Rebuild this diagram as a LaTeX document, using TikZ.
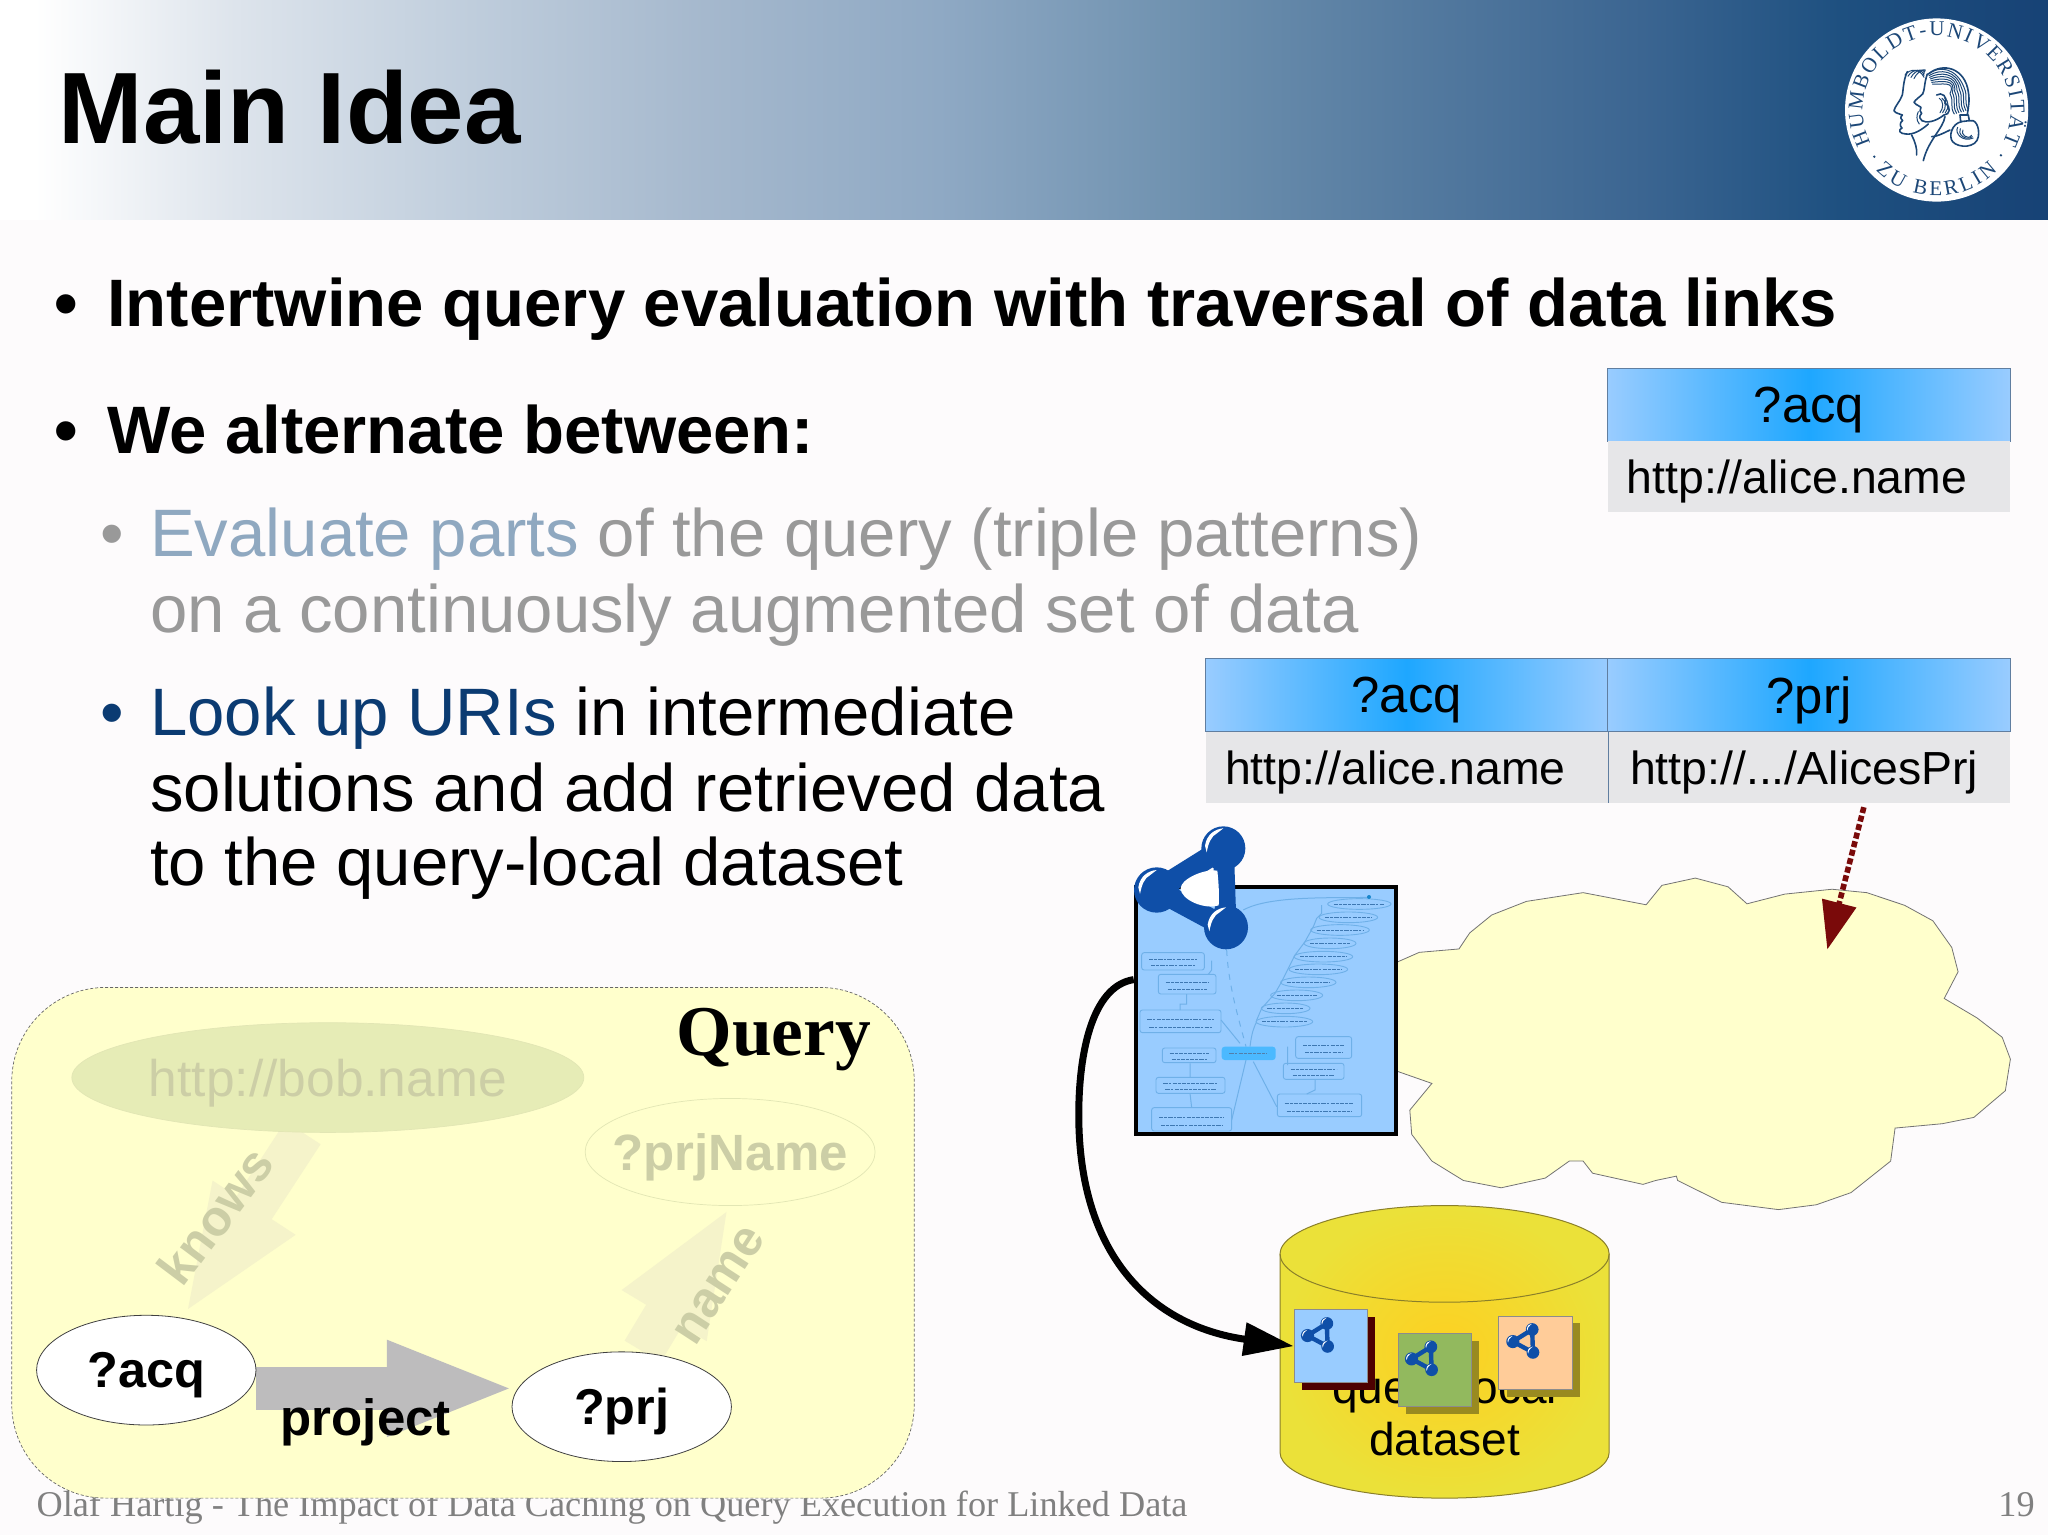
\documentclass[tikz,border=0pt]{standalone}
\usepackage{fontspec}
\setmainfont{Liberation Sans}
\newfontfamily\serifx{Liberation Serif}
\usetikzlibrary{arrows.meta,decorations.text,shapes.geometric,calc}
\pgfdeclarelayer{base}
\pgfdeclarelayer{under}
\pgfsetlayers{base,under,main}
\definecolor{pagebg}{HTML}{FDFBFC}
\definecolor{netblue}{HTML}{0F4FA8}
\definecolor{hublue}{HTML}{1C4777}
\definecolor{qyellow}{HTML}{FFFFCC}
\definecolor{docblue}{HTML}{99CCFF}
\definecolor{mapline}{HTML}{6FB0E8}
\definecolor{maptext}{HTML}{2F6AA5}
\definecolor{darkred}{HTML}{7A0A0A}
\definecolor{softgrey}{HTML}{999999}
\definecolor{softblue}{HTML}{8FA8C0}
\definecolor{uriblue}{HTML}{0B3B72}
\definecolor{fadetext}{HTML}{CCCEA6}
\definecolor{fadearrow}{HTML}{F5F3CA}
\definecolor{cyanmid}{HTML}{1EA7FF}
\definecolor{cellgrey}{HTML}{E6E6E8}
\definecolor{dbcentre}{HTML}{FDD021}
\definecolor{dbedge}{HTML}{EBE139}
\definecolor{dbline}{HTML}{8A7F2A}
\definecolor{shadowred}{HTML}{4D0000}
\definecolor{shadowochre}{HTML}{998A20}
\definecolor{pagegreen}{HTML}{92B95E}
\definecolor{pageorange}{HTML}{FFCC99}
\definecolor{footgrey}{HTML}{808080}
\definecolor{bobfill}{HTML}{E6ECB6}
\definecolor{bobdraw}{HTML}{E2E6B4}
\definecolor{projgrey}{HTML}{BDBCBD}
\pgfdeclarehorizontalshading{headershade}{100bp}{%
 rgb(0bp)=(1,1,1); rgb(25.85bp)=(1,1,1);
 rgb(30.75bp)=(.867,.894,.925); rgb(36.5bp)=(.749,.804,.863);
 rgb(42.2bp)=(.647,.722,.804); rgb(47.9bp)=(.561,.663,.769);
 rgb(53.65bp)=(.439,.573,.690); rgb(59.35bp)=(.333,.482,.627);
 rgb(65.1bp)=(.231,.396,.569); rgb(69.9bp)=(.118,.314,.502);
 rgb(75bp)=(.09,.26,.46); rgb(100bp)=(.09,.26,.46)}
\newcommand{\fsz}[1]{\fontsize{#1pt}{#1pt}\selectfont}
\newcommand{\lowr}[1]{\raisebox{-2.6pt}[\height][\depth]{#1}}
\tikzset{
 lbl/.style={inner sep=0pt,outer sep=0pt,anchor=base west},
 bold bullet/.style={lbl,font=\fsz{33.55}\bfseries},
 sub text/.style={lbl,font=\fsz{33.55}},
 cellhead/.style={draw=hublue!70,line width=.5pt,left color=docblue,right color=docblue,middle color=cyanmid,
   minimum height=56*.65306pt,inner sep=0pt,font=\fsz{25.4}},
 cellval/.style={fill=cellgrey,minimum height=54*.65306pt,inner sep=0pt,font=\fsz{23.2}},
 graph node/.style={ellipse,draw=black!75,line width=.4pt,fill=white,minimum width=168*.65306pt,minimum height=84*.65306pt,inner sep=0pt,font=\fsz{25.2}\bfseries},
 faded link/.style={fadearrow,line width=21pt,-{Triangle[length=64pt,width=44pt]}},
 rdoc/.style={rectangle,draw=black!45,line width=.5pt,minimum size=36.67pt,inner sep=0pt},
 rshadow/.style={rectangle,minimum size=36.67pt,inner sep=0pt},
 mapbox/.style={draw=mapline,line width=.45pt,rounded corners=1.2pt},
 maprow/.style={maptext,opacity=.85,line width=.5pt,dash pattern=on 2.2pt off .5pt on 1.3pt off .6pt},
 hair/.style={hublue,line width=.5pt,line cap=round,line join=round},
 sealtext/.style={decorate,decoration={text along path,text align={fit to path},text={#1}}}
}
\newcommand{\rdfnet}[4]{% x y scale linkwidth
 \begin{scope}[shift={(#1,#2)},scale=#3]
  \draw[netblue,line width=#4,line join=round] (0,0)--(-200,125)--(8,237)--cycle;
  \fill[netblue] (0,0) circle (66) (-200,125) circle (68) (8,237) circle (66);
  \foreach \a/\b in {0/0,-200/125,8/237}{
   \fill[white] ($(\a,\b)+(-55,-8)$) .. controls ($(\a,\b)+(-50,-42)$) and ($(\a,\b)+(-25,-58)$) .. ($(\a,\b)+(0,-60)$) -- ($(\a,\b)+(-18,-46)$) .. controls ($(\a,\b)+(-38,-36)$) and ($(\a,\b)+(-45,-14)$) .. ($(\a,\b)+(-50,12)$) -- cycle;
  }
 \end{scope}}
\begin{document}
\begin{tikzpicture}[x=.65306pt,y=-.65306pt,font=\fsz{20}]
\useasboundingbox (0,0) rectangle (1568,1175.4);
\begin{pgfonlayer}{base}
\fill[pagebg] (0,0) rectangle (1568,1175.4);
\shade[shading=headershade] (0,0) rectangle (1568,168);
\node[lbl,font=\serifx\fsz{18.13},text=footgrey] (foot) at (28,1161) {Olaf Hartig - The Impact of Data Caching on Query Execution for Linked Data};
\node[lbl,font=\serifx\fsz{18.13},text=footgrey] (pageno) at (1530,1161) {19};
\draw[fill=qyellow,draw=black!60,line width=.35pt,dash pattern=on 1.5pt off 1pt,rounded corners=47pt] (9,756) rectangle (700,1147);
\end{pgfonlayer}
\node[lbl,font=\fsz{50.7}\bfseries] (title) at (45,110) {Main Idea};
% logo
\begin{scope}[shift={(1393.4,0)},x=.16667pt,y=-.16667pt]
 \node[circle,fill=white,minimum size=91.6pt,inner sep=0pt] (seal) at (350,330) {};
 \path[sealtext={|\serifx\fsz{10.5}\color{hublue}|HUMBOLDT-UNIVERSITÄT}]
   (152.2,430.8) arc[start angle=153,end angle=387,radius=222];
 \path[sealtext={|\serifx\fsz{10.5}\color{hublue}|ZU BERLIN}]
   (167.6,512.4) arc[start angle=135,end angle=45,radius=258];
 \fill[hublue] (163,470) circle (4) (543,466) circle (4);
 \draw[hair,line width=.8pt] (262,215) .. controls (250,240) and (250,270) .. (247,285) .. controls (240,305) and (225,318) .. (222,332) .. controls (228,342) and (240,340) .. (247,345) .. controls (240,352) and (242,358) .. (248,362) .. controls (238,368) and (240,380) .. (246,384) .. controls (232,390) and (240,402) .. (258,402) .. controls (280,405) and (305,390) .. (325,372);
 \draw[hair,line width=.8pt] (275,405) .. controls (285,425) and (292,445) .. (290,465);
 \draw[hair,line width=.8pt] (322,222) .. controls (312,250) and (315,270) .. (308,282) .. controls (298,292) and (285,300) .. (282,307) .. controls (290,318) and (300,316) .. (303,322) .. controls (298,330) and (300,336) .. (305,340) .. controls (295,350) and (300,358) .. (306,362) .. controls (318,370) and (345,366) .. (372,345);
 \draw[hair,line width=.8pt] (375,350) .. controls (370,385) and (325,420) .. (310,482);
 \draw[hair,line width=.8pt] (335,410) .. controls (350,410) and (370,400) .. (390,390);
 \foreach \d in {0,9,18,27}{
  \draw[hair] (255+\d,225+\d*.4) .. controls (270+\d,205) and (300+\d,205) .. (312,232-\d*.6);
 }
 \draw[hair] (295,335) .. controls (290,345) and (288,360) .. (298,372);
 \foreach \d in {0,10,20,30,40,50,60}{
  \draw[hair] (325+\d*.2,222+\d*.5) .. controls (360,195+\d) and (410,205+\d*.6) .. (432-\d*.7,262+\d*.3) .. controls (445-\d*.7,290+\d*.3) and (430-\d*.7,300+\d*.3) .. (445-\d*.7,330+\d*.2);
 }
 \draw[hair,line width=.8pt] (325,222) .. controls (370,185) and (435,205) .. (445,275) .. controls (450,305) and (445,320) .. (442,345);
 \draw[hair,line width=.8pt] (350,285) .. controls (365,275) and (385,290) .. (375,310) .. controls (395,320) and (390,345) .. (372,345);
 \foreach \d in {0,8,16}{ \draw[hair] (358+\d,295) .. controls (370+\d,300) and (372+\d,325) .. (360+\d,338); }
 \draw[hair,line width=.8pt] (420,345) -- (445,345) -- (448,362) -- (422,365) -- cycle;
 \draw[hair,line width=.8pt] (425,365) .. controls (395,370) and (385,410) .. (398,425) .. controls (415,445) and (470,445) .. (475,410) .. controls (480,380) and (465,355) .. (448,362);
 \foreach \r in {8,16,24}{ \draw[hair] (405+\r,378+\r*.5) .. controls (395+\r,400) and (420+\r,430-\r*.3) .. (462-\r*.3,418-\r*.5); }
\end{scope}
% bullets
\node[bold bullet] (b1) at (42,250) {•};
\node[bold bullet] (t1) at (82,250) {Intertwine query evaluation with traversal of data links};
\node[bold bullet] (b2) at (42,347) {•};
\node[bold bullet] (t2) at (82,347) {We alternate between:};
\node[sub text,text=softgrey] (b3) at (77,426) {•};
\node[sub text,text=softgrey] (t3) at (115,426) {\textcolor{softblue}{Evaluate parts} of the query (triple patterns)};
\node[sub text,text=softgrey] (t3b) at (115,484) {on a continuously augmented set of data};
\node[sub text,text=uriblue] (b4) at (77,563) {•};
\node[sub text] (t4) at (115,563) {\textcolor{uriblue}{Look up URIs} in intermediate};
\node[sub text] (t4b) at (115,621) {solutions and add retrieved data};
\node[sub text] (t4c) at (115,678) {to the query-local dataset};
% tables
\node[cellhead,minimum width=308*.65306pt] (h1) at (1385,310) {\lowr{?acq}};
\node[cellval,minimum width=308*.65306pt,text width=279*.65306pt,align=left] (v1) at (1385,365) {\lowr{http://alice.name}};
\node[cellhead,minimum width=308*.65306pt] (h2) at (1077,532) {\lowr{?acq}};
\node[cellhead,minimum width=308*.65306pt] (h3) at (1385,532) {\lowr{?prj}};
\node[cellval,minimum width=308*.65306pt,text width=278*.65306pt,align=left] (v2) at (1077,587.5) {\lowr{http://alice.name}};
\node[cellval,minimum width=308*.65306pt,text width=274*.65306pt,align=left] (v3) at (1385,587.5) {\lowr{http://.../AlicesPrj}};
\draw[hublue!70,line width=.4pt] (v2.north east) -- (v2.south east);
% cloud
\begin{scope}[shift={(811.6,597.2)},x=.3151pt,y=-.2427pt]
 \draw[fill=qyellow,draw=black!55,line width=.4pt] (535,375)--(570,355)--(633,348)--(650,315)--(685,278)--(740,250)--(830,232)--(930,257)--(955,217)--(1008,202)--(1060,220)--(1090,255)--(1150,235)--(1225,225)--(1280,232)--(1340,258)--(1385,290)--(1415,345)--(1425,395)--(1403,450)--(1455,490)--(1495,530)--(1508,575)--(1500,640)--(1450,695)--(1400,708)--(1325,717)--(1318,785)--(1255,850)--(1200,875)--(1140,885)--(1050,870)--(980,825)--(978,816)--(945,825)--(925,833)--(845,810)--(830,785)--(808,785)--(770,820)--(700,840)--(640,825)--(590,785)--(558,730)--(555,680)--(590,625)--(535,600)--cycle;
\end{scope}
% dotted link into the cloud
\coordinate (dotstart) at (1427,618);
\coordinate (dotend) at (1399,727);
\draw[darkred,line width=2.8pt,dash pattern=on 3pt off 1.4pt,-{Triangle[length=24pt,width=17pt]}] (dotstart) -- (dotend);
% document with mind map
\begin{scope}[shift={(857.5,627.8)},x=.16667pt,y=-.16667pt]
 \node[rectangle,draw=black,line width=2pt,fill=docblue,minimum width=130pt,minimum height=123.5pt,inner sep=0pt] (doc) at (437,570) {};
 \draw[mapline,line width=.5pt] (370,270) .. controls (450,225) and (650,235) .. (745,232);
 \draw[mapline,line width=.5pt,dashed] (320,390) .. controls (325,500) and (360,610) .. (378,680);
 \draw[mapline,line width=.5pt] (378,720) -- (335,900) (400,725) -- (470,860) (360,670) -- (303,600) (390,680) .. controls (395,640) and (400,625) .. (410,605);
 \draw[mapline,line width=.5pt] (605,255) -- (605,280) -- (590,295) -- (580,320) -- (555,365) -- (525,405) -- (505,445) -- (485,485) -- (465,520) -- (425,565) -- (410,600);
 \draw[mapline,line width=.5pt] (503,680) -- (503,735) (585,778) -- (585,810) -- (560,822) (210,730) -- (210,772) (210,820) -- (215,863) (200,522) -- (200,552) -- (180,552) -- (180,570) (275,422) -- (275,450) -- (265,463);
 \foreach \x/\y/\w in {718/252/95,685/292/88,660/330/88,630/370/78,610/410/88,595/448/88,565/487/83,530/526/78,497/565/73,493/605/85}{
  \draw[mapline,line width=.45pt] (\x,\y) ellipse [x radius=\w,y radius=16];
  \draw[maprow] (\x-\w+18,\y) -- (\x+\w-18,\y);
 }
 \foreach \xa/\ya/\xb/\yb in {65/398/253/450,115/463/288/522,60/570/303/638,127/684/288/728,108/772/315/820,95/863/335/933,527/650/695/715,490/730/672/778,472/822/725/890}{
  \draw[mapbox] (\xa,\ya) rectangle (\xb,\yb);
  \draw[maprow] (\xa+22,\ya*.6+\yb*.4) -- (\xb-22,\ya*.6+\yb*.4);
  \draw[maprow] (\xa+28,\ya*.25+\yb*.75) -- (\xb-28,\ya*.25+\yb*.75);
 }
 \fill[white!20!cyanmid,rounded corners=1.5pt] (305,680) rectangle (467,720);
 \draw[maprow,uriblue!70] (328,700) -- (442,700);
 \fill[cyanmid!80!black] (747,231) circle (6);
 \rdfnet{310}{85}{1}{10.5pt}
 \fill[white] (182,205) .. controls (182,178) and (250,146) .. (292,152) .. controls (296,190) and (298,225) .. (296,256) .. controls (255,270) and (182,240) .. (182,205) -- cycle;
\end{scope}
% database
\shadedraw[draw=dbline,line width=.5pt,inner color=dbcentre,outer color=dbedge]
 (980,960) -- (980,1112) .. controls (980,1131) and (1036,1147) .. (1106,1147) .. controls (1176,1147) and (1232,1131) .. (1232,1112) -- (1232,960) .. controls (1232,941) and (1176,923) .. (1106,923) .. controls (1036,923) and (980,941) .. (980,960) -- cycle;
\draw[dbline,line width=.5pt] (980,960) .. controls (980,980) and (1036,997) .. (1106,997) .. controls (1176,997) and (1232,980) .. (1232,960);
\node[lbl,anchor=base,font=\fsz{23}] (db1) at (1106,1074.4) {query-local};
\node[lbl,anchor=base,font=\fsz{23}] (db2) at (1106,1114) {dataset};
% pages in the dataset
\begin{scope}[shift={(964.8,980.1)},x=.16667pt,y=-.16667pt]
 \node[rshadow,fill=shadowred] (shadow1) at (234,220) {};
 \node[rdoc,fill=docblue] (page1) at (212,198) {};
 \rdfnet{200}{130}{.29}{2.2pt}
 \node[rshadow,fill=shadowochre] (shadow2) at (546,292) {};
 \node[rdoc,fill=pagegreen] (page2) at (524,270) {};
 \rdfnet{512}{200}{.29}{2.2pt}
 \node[rshadow,fill=shadowochre] (shadow3) at (849,240) {};
 \node[rdoc,fill=pageorange] (page3) at (826,218) {};
 \rdfnet{816}{148}{.29}{2.2pt}
\end{scope}
% arrow from the document to the dataset
\coordinate (docout) at (868,750);
\draw[black,line width=3.5pt,-{Triangle[length=25pt,width=16pt]}] (docout) .. controls (835,755) and (825,810) .. (826,860) .. controls (828,960) and (880,1015) .. (page1.west);
% query graph
\node[ellipse,fill=bobfill,draw=bobdraw,line width=.35pt,minimum width=392*.65306pt,minimum height=84*.65306pt,inner sep=0pt,text=fadetext,font=\fsz{25.75}] (bob) at (251,825) {\lowr{http://bob.name}};
\node[ellipse,fill=qyellow,draw=bobdraw,line width=.35pt,minimum width=222*.65306pt,minimum height=82*.65306pt,inner sep=0pt] (prjname) at (559,882) {};
\node[inner sep=0pt,text=fadetext,font=\fsz{25.5}\bfseries] (prjnametext) at (prjname.center) {\lowr{?prjName}};
\node[graph node] (acq) at (112,1049) {\lowr{?acq}};
\node[graph node] (prj) at (476,1077) {\lowr{?prj}};
\begin{pgfonlayer}{under}
 \draw[faded link] ([xshift=-19*.65306pt]bob.south) -- ([xshift=29*.65306pt]acq.north);
 \draw[faded link] ([xshift=16*.65306pt]prj.north) -- (prjname.south);
 \draw[projgrey,line width=21.5pt,-{Triangle[length=65pt,width=43pt]}] ([yshift=-14*.65306pt]acq.east) -- ([shift={(4*.65306pt,14*.65306pt)}]prj.west);
\end{pgfonlayer}
\node[lbl,anchor=base,font=\serifx\fsz{35.7}\bfseries] (qlabel) at (592.5,808) {Query};
\node[inner sep=0pt,rotate=53,text=fadetext,font=\fsz{25}\bfseries] (knows) at (165,931) {knows};
\node[inner sep=0pt,rotate=57,text=fadetext,font=\fsz{25}\bfseries] (namelbl) at (551,984) {name};
\node[lbl,font=\fsz{25.5}\bfseries] (projlbl) at (215,1099) {project};
\end{tikzpicture}
\end{document}
